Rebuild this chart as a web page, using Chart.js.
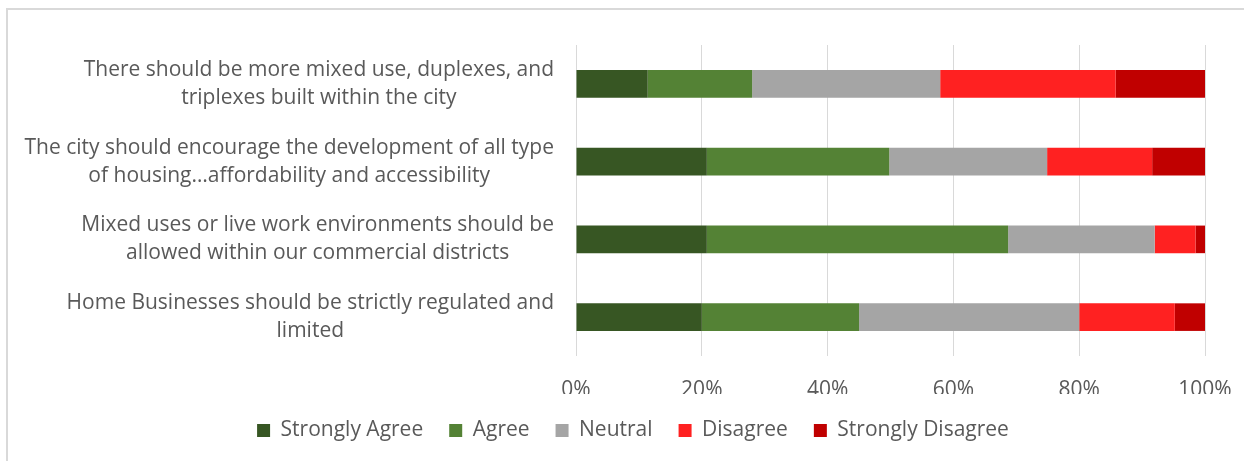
<!DOCTYPE html>
<html>
<head>
<meta charset="utf-8">
<script src="https://cdn.jsdelivr.net/npm/chart.js@4/dist/chart.umd.min.js"></script>
<style>
  html, body { margin: 0; padding: 0; background: #ffffff; overflow: hidden; width: 1244px; height: 461px; }
  #frame { position: absolute; left: 6px; top: 8px; width: 1300px; height: 500px;
           border-left: 2px solid #D9D9D9; border-top: 2px solid #D9D9D9; box-sizing: border-box; }
  #c { position: absolute; left: 0; top: 0; }
</style>
</head>
<body>
<div id="frame"></div>
<canvas id="c" width="1244" height="461"></canvas>
<script>
// ---- data ----
const categories = [
  ["There should be more mixed use, duplexes, and", "triplexes built within the city"],
  ["The city should encourage the development of all type", "of housing\u2026affordability and accessibility"],
  ["Mixed uses or live work environments should be", "allowed within our commercial districts"],
  ["Home Businesses should be strictly regulated and", "limited"]
];
const seriesNames = ["Strongly Agree", "Agree", "Neutral", "Disagree", "Strongly Disagree"];
const stronglyAgree    = [11.4, 20.8, 20.8, 20.0];
const agree            = [16.6, 29.0, 47.9, 25.0];
const neutral          = [29.9, 25.1, 23.3, 35.0];
const disagree         = [27.9, 16.7, 6.5, 15.2];
const stronglyDisagree = [14.2, 8.4, 1.5, 4.8];
const xTickLabels = ["0%", "20%", "40%", "60%", "80%", "100%"];

const seriesValues = [stronglyAgree, agree, neutral, disagree, stronglyDisagree];
const seriesColors = ["#375623", "#548235", "#A5A5A5", "#FF2121", "#C00000"];

const FONT = '"Open Sans", sans-serif';
const TEXT = '#595959';

// category labels: each label block right-aligned to the axis, its lines centred within the block
const categoryLabelPlugin = {
  id: 'categoryLabels',
  afterDraw(chart) {
    const ctx = chart.ctx;
    const y = chart.scales.y;
    const right = chart.chartArea.left - 22;
    ctx.save();
    ctx.font = '21px ' + FONT;
    ctx.fillStyle = TEXT;
    ctx.textAlign = 'center';
    ctx.textBaseline = 'alphabetic';
    categories.forEach((lines, i) => {
      const yc = y.getPixelForValue(i);
      const maxW = Math.max(...lines.map(l => ctx.measureText(l).width));
      const cx = right - maxW / 2;
      const n = lines.length;
      lines.forEach((line, j) => {
        ctx.fillText(line, cx, yc + 6 + (j - (n - 1) / 2) * 28);
      });
    });
    ctx.restore();
  }
};

new Chart(document.getElementById('c'), {
  type: 'bar',
  data: {
    labels: categories,
    datasets: seriesNames.map((name, k) => ({
      label: name,
      data: seriesValues[k],
      backgroundColor: seriesColors[k],
      borderWidth: 0,
      categoryPercentage: 1.0,
      barPercentage: 0.355
    }))
  },
  options: {
    indexAxis: 'y',
    responsive: false,
    animation: false,
    devicePixelRatio: 1,
    layout: { padding: { left: 61, right: 39, top: 45, bottom: 10 } },
    scales: {
      x: {
        stacked: true,
        min: 0, max: 100,
        ticks: {
          stepSize: 20,
          padding: 21,
          color: TEXT,
          font: { family: FONT, size: 21 },
          callback: (v, i) => xTickLabels[i]
        },
        grid: { color: '#D9D9D9', lineWidth: 1, drawTicks: false, tickLength: 0, tickColor: 'rgba(0,0,0,0)' },
        border: { display: false },
        afterFit(scale) { scale.height = 38; scale.paddingLeft = 0; scale.paddingRight = 0; }
      },
      y: {
        stacked: true,
        ticks: { display: false },
        grid: { display: false },
        border: { display: false },
        afterFit(scale) { scale.width = 515; }
      }
    },
    plugins: {
      legend: {
        position: 'bottom',
        labels: {
          boxWidth: 13, boxHeight: 13, padding: 26,
          color: TEXT,
          font: { family: FONT, size: 21 }
        }
      },
      tooltip: { enabled: false }
    }
  },
  plugins: [categoryLabelPlugin]
});
</script>
</body>
</html>
